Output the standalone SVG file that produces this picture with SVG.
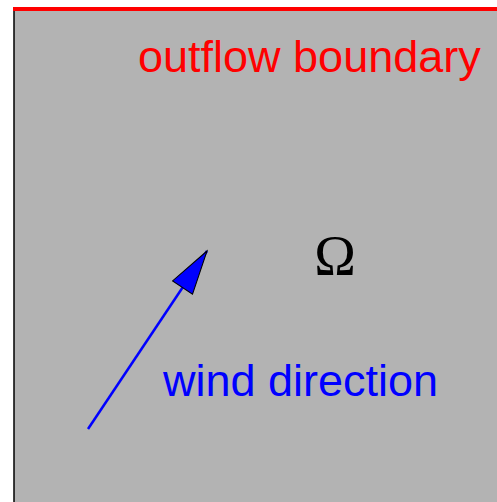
<svg xmlns="http://www.w3.org/2000/svg" width="497" height="502" viewBox="0 0 497 502">
<style>
.lbl{font-family:"Liberation Sans",Arial,sans-serif;font-size:45px}
</style>
<defs>
<marker id="ah" markerUnits="userSpaceOnUse" markerWidth="50" markerHeight="30" refX="0" refY="0" viewBox="-46 -15 50 30" orient="auto">
<path d="M0,0 L-44,-12 L-44,12 Z" fill="#0000ff" stroke="#000" stroke-width="1"/>
</marker>
</defs>
<g id="domain">
<rect x="14" y="10" width="490" height="500" fill="#b3b3b3"/>
<line x1="14" y1="10" x2="14" y2="502" stroke="#000" stroke-width="1.5"/>
</g>
<g id="outflow">
<line x1="13" y1="9" x2="497" y2="9" stroke="#ff0000" stroke-width="4"/>
<text class="lbl" x="138" y="72" fill="#ff0000">outflow boundary</text>
</g>
<g id="omega">
<text x="335" y="275" text-anchor="middle" font-family="Liberation Serif,'Times New Roman',serif" font-size="56" fill="#000">Ω</text>
</g>
<g id="connectors">
<line x1="88" y1="429" x2="207" y2="251" stroke="#0000ff" stroke-width="2.5" marker-end="url(#ah)"/>
</g>
<g id="wind">
<text class="lbl" x="163" y="396" fill="#0000ff">wind direction</text>
</g>
</svg>
